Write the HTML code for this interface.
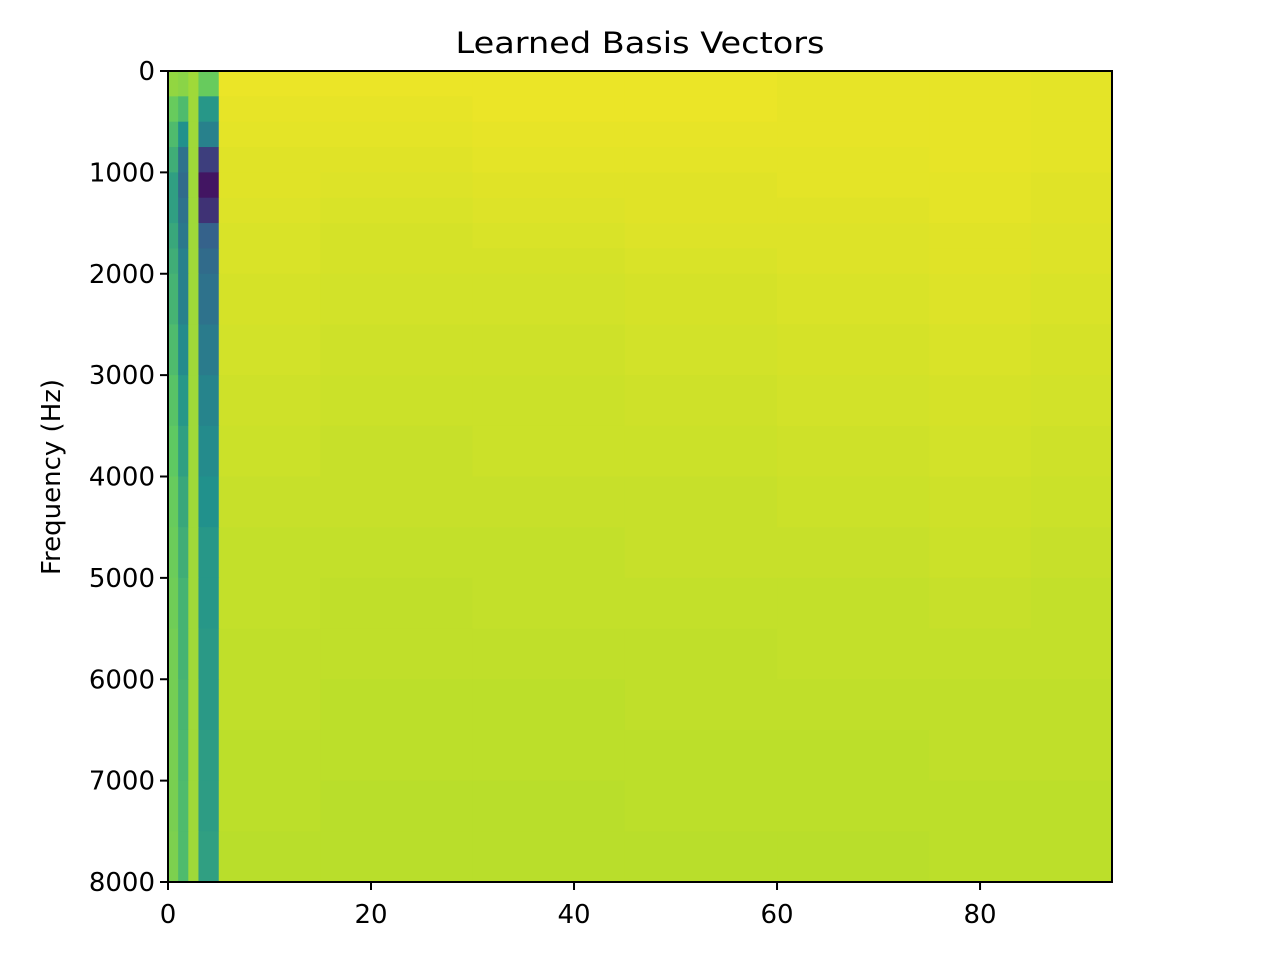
<!DOCTYPE html>
<html><head><meta charset="utf-8"><style>
body{margin:0;background:#fff;}
svg{display:block;font-family:"DejaVu Sans","Liberation Sans",sans-serif;}
</style></head><body>
<svg id="chart" width="1280" height="960">
<text x="640" y="53" text-anchor="middle" font-size="29" textLength="369" lengthAdjust="spacingAndGlyphs">Learned Basis Vectors</text>
<g id="cells"></g>
<rect x="168" y="71" width="944" height="811" fill="none" stroke="#000" stroke-width="2"/>
<g id="xaxis"></g>
<g id="yaxis"></g>
<text transform="translate(60,477) rotate(-90)" text-anchor="middle" font-size="26">Frequency (Hz)</text>
</svg>
<script>
const colStarts = [0,1,2,3,5,15,30,45,60,75,85];
const xMax = 93;
const rowStarts = [0,250,500,750,1000,1250,1500,1750,2000,2500,3000,3500,4000,4500,5000,5500,6000,6500,7000,7500];
const yMax = 8000;
const values = [
 [0.72,0.70,0.75,0.62,0.95,0.95,0.95,0.95,0.94,0.94,0.93],
 [0.62,0.55,0.75,0.42,0.94,0.94,0.95,0.95,0.94,0.94,0.93],
 [0.55,0.40,0.75,0.35,0.93,0.93,0.94,0.94,0.94,0.94,0.93],
 [0.50,0.30,0.75,0.15,0.92,0.92,0.93,0.93,0.93,0.94,0.93],
 [0.45,0.28,0.75,0.05,0.92,0.91,0.92,0.92,0.93,0.93,0.92],
 [0.45,0.30,0.75,0.12,0.91,0.90,0.91,0.92,0.92,0.93,0.92],
 [0.48,0.32,0.75,0.25,0.90,0.89,0.90,0.91,0.91,0.92,0.91],
 [0.50,0.35,0.75,0.28,0.90,0.89,0.89,0.90,0.91,0.92,0.91],
 [0.52,0.35,0.75,0.30,0.89,0.88,0.88,0.89,0.90,0.91,0.90],
 [0.55,0.38,0.75,0.33,0.88,0.87,0.87,0.88,0.89,0.90,0.89],
 [0.58,0.42,0.75,0.36,0.87,0.86,0.86,0.87,0.88,0.89,0.88],
 [0.60,0.45,0.75,0.38,0.86,0.85,0.86,0.86,0.87,0.88,0.87],
 [0.62,0.48,0.75,0.40,0.85,0.85,0.85,0.85,0.86,0.87,0.86],
 [0.63,0.50,0.75,0.42,0.84,0.84,0.84,0.85,0.85,0.86,0.85],
 [0.64,0.52,0.75,0.42,0.84,0.83,0.84,0.84,0.84,0.85,0.84],
 [0.65,0.52,0.75,0.43,0.83,0.83,0.83,0.83,0.84,0.84,0.84],
 [0.65,0.53,0.75,0.43,0.83,0.82,0.82,0.83,0.83,0.83,0.83],
 [0.66,0.54,0.75,0.44,0.82,0.82,0.82,0.82,0.82,0.83,0.83],
 [0.66,0.55,0.75,0.44,0.82,0.81,0.81,0.82,0.82,0.82,0.82],
 [0.67,0.55,0.75,0.45,0.81,0.81,0.81,0.81,0.81,0.82,0.82]
];
const xTicks = [0,20,40,60,80];
const yTicks = [0,1000,2000,3000,4000,5000,6000,7000,8000];

const L=168,R=1112,T=71,B=882;
const sx=v=>L+(v/xMax)*(R-L);
const sy=v=>T+(v/yMax)*(B-T);
const vir=[[68,1,84],[59,82,139],[33,145,140],[94,201,98],[181,222,43],[253,231,37]];
function cmap(t){t=Math.max(0,Math.min(1,t));const p=t*(vir.length-1);const i=Math.min(vir.length-2,Math.floor(p));const f=p-i;
 const c=vir[i].map((a,k)=>Math.round(a+(vir[i+1][k]-a)*f));return `rgb(${c})`;}
const NS="http://www.w3.org/2000/svg";
const cells=document.getElementById('cells');
for(let r=0;r<rowStarts.length;r++){
 const y0=sy(rowStarts[r]),y1=sy(r+1<rowStarts.length?rowStarts[r+1]:yMax);
 for(let c=0;c<colStarts.length;c++){
  const x0=sx(colStarts[c]),x1=sx(c+1<colStarts.length?colStarts[c+1]:xMax);
  const e=document.createElementNS(NS,'rect');
  e.setAttribute('x',x0);e.setAttribute('y',y0);
  e.setAttribute('width',x1-x0+0.5);e.setAttribute('height',y1-y0+0.5);
  e.setAttribute('fill',cmap(values[r][c]));
  
  
  cells.appendChild(e);
 }
}
const xa=document.getElementById('xaxis');
xTicks.forEach(v=>{const x=sx(v);
 const l=document.createElementNS(NS,'line');l.setAttribute('x1',x);l.setAttribute('x2',x);l.setAttribute('y1',B);l.setAttribute('y2',B+8);l.setAttribute('stroke','#000');l.setAttribute('stroke-width','2');
 
 
 xa.appendChild(l);
 const t=document.createElementNS(NS,'text');t.setAttribute('x',x);t.setAttribute('y',B+41);t.setAttribute('text-anchor','middle');t.setAttribute('font-size','26');t.textContent=v;
 
 
 xa.appendChild(t);});
const ya=document.getElementById('yaxis');
yTicks.forEach(v=>{const y=sy(v);
 const l=document.createElementNS(NS,'line');l.setAttribute('x1',L-8);l.setAttribute('x2',L);l.setAttribute('y1',y);l.setAttribute('y2',y);l.setAttribute('stroke','#000');l.setAttribute('stroke-width','2');
 
 
 ya.appendChild(l);
 const t=document.createElementNS(NS,'text');t.setAttribute('x',L-13);t.setAttribute('y',y+9);t.setAttribute('text-anchor','end');t.setAttribute('font-size','26');t.textContent=v;
 
 
 ya.appendChild(t);});
</script>
</body></html>
